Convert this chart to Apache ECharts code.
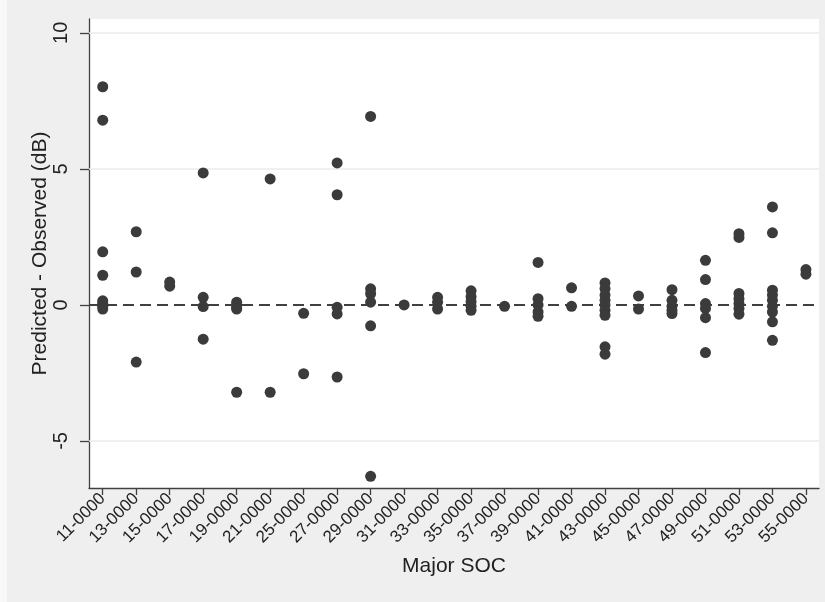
<!DOCTYPE html>
<html>
<head>
<meta charset="utf-8">
<script src="https://cdn.jsdelivr.net/npm/echarts@6/dist/echarts.min.js"></script>
<style>
html,body{margin:0;padding:0;background:#efefef;overflow:hidden;}
#chart{width:825px;height:602px;}
</style>
</head>
<body>
<div id="chart"></div>
<script>
const categories = ["11-0000","13-0000","15-0000","17-0000","19-0000","21-0000","25-0000","27-0000","29-0000","31-0000","33-0000","35-0000","37-0000","39-0000","41-0000","43-0000","45-0000","47-0000","49-0000","51-0000","53-0000","55-0000"];
const diffValues = [
  [8.02, 6.79, 1.95, 1.09, 0.15, 0.05, -0.05, -0.15],
  [2.69, 1.21, -2.10],
  [0.84, 0.69],
  [4.85, 0.28, -0.06, -1.26],
  [0.10, 0.0, -0.10, -0.15, -3.21],
  [4.63, -3.21],
  [-0.31, -2.53],
  [5.22, 4.05, -0.09, -0.33, -2.65],
  [6.93, 0.59, 0.41, 0.10, -0.77, -6.30],
  [0.0],
  [0.28, 0.10, -0.15],
  [0.52, 0.30, 0.12, -0.05, -0.20],
  [-0.05],
  [1.56, 0.23, 0.0, -0.26, -0.42],
  [0.63, -0.05],
  [0.81, 0.60, 0.36, 0.17, 0.0, -0.20, -0.38, -1.54, -1.81],
  [0.33, -0.15],
  [0.56, 0.17, -0.05, -0.20, -0.32],
  [1.64, 0.93, 0.05, -0.13, -0.47, -1.75],
  [2.62, 2.48, 0.42, 0.23, 0.05, -0.13, -0.34],
  [3.60, 2.65, 0.54, 0.36, 0.17, -0.05, -0.26, -0.62, -1.30],
  [1.30, 1.13]
];
const yTicks = [-5, 0, 5, 10];
const gridValues = [-5, 5, 10];
const refValue = 0;
const xTitle = "Major SOC";
const yTitle = "Predicted - Observed (dB)";

const points = [];
diffValues.forEach((arr, i) => arr.forEach(v => points.push([i, v])));
const xIdx = categories.map((c, i) => i);

const chart = echarts.init(document.getElementById('chart'), null, {renderer: 'canvas'});
const font = 'Liberation Sans, Arial, sans-serif';
chart.setOption({
  backgroundColor: '#efefef',
  animation: false,
  graphic: [
    {type: 'rect', left: 0, top: 0, shape: {width: 7, height: 602}, style: {fill: '#f8f8f8'}, z: -10}
  ],
  grid: {left: 89, top: 19, right: 6, bottom: 114, show: true, backgroundColor: '#ffffff', borderWidth: 0},
  xAxis: {
    type: 'value', min: -0.41, max: 21.39,
    name: xTitle, nameLocation: 'middle', nameGap: 68, nameMoveOverlap: false,
    nameTextStyle: {fontFamily: font, fontSize: 21, color: '#222'},
    axisLine: {show: true, onZero: false, lineStyle: {color: '#404040', width: 1.3}},
    axisTick: {show: true, customValues: xIdx, length: 7, lineStyle: {color: '#404040', width: 1.3}},
    axisLabel: {customValues: xIdx, rotate: 45, margin: 8, fontFamily: font, fontSize: 17, color: '#222',
      formatter: v => categories[Math.round(v)] || ''},
    splitLine: {show: false}
  },
  yAxis: {
    type: 'value', min: -6.73, max: 10.51,
    name: yTitle, nameLocation: 'middle', nameGap: 38, nameMoveOverlap: false,
    nameTextStyle: {fontFamily: font, fontSize: 21, color: '#222'},
    axisLine: {show: true, onZero: false, lineStyle: {color: '#404040', width: 1.3}},
    axisTick: {show: true, customValues: yTicks, length: 9, lineStyle: {color: '#404040', width: 1.3}},
    axisLabel: {customValues: yTicks, rotate: 90, margin: 18, fontFamily: font, fontSize: 20, color: '#222'},
    splitLine: {show: false}
  },
  series: [{
    type: 'scatter',
    data: points,
    symbol: 'circle',
    symbolSize: 11,
    itemStyle: {color: '#3b3b3b', opacity: 1},
    z: 5,
    markLine: {
      silent: true, symbol: 'none', label: {show: false}, z: 1,
      data: gridValues.map(v => ({yAxis: v, lineStyle: {color: '#ebebeb', width: 1.5, type: 'solid'}}))
        .concat([{yAxis: refValue, lineStyle: {color: '#404040', width: 2, type: [11, 6]}}])
    }
  }]
});
</script>
</body>
</html>
